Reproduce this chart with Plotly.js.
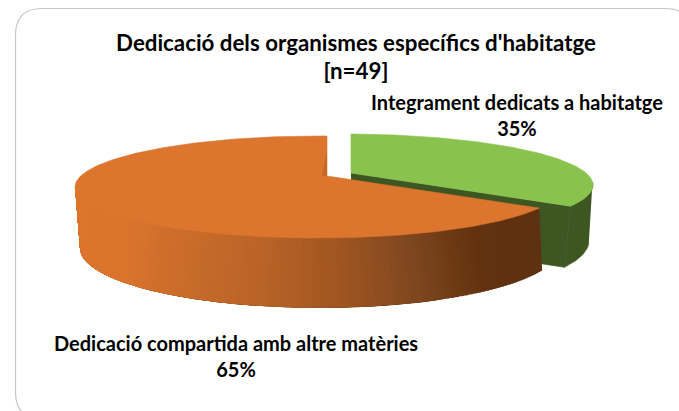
<!DOCTYPE html>
<html>
<head>
<meta charset="utf-8">
<script src="https://cdn.plot.ly/plotly-3.0.0.min.js"></script>
<style>html,body{margin:0;padding:0;background:#fff}#chart{width:679px;height:411px}</style>
</head>
<body>
<div id="chart"></div>
<script>
// Data
var titleLines = ["Dedicació dels organismes específics d'habitatge", "[n=49]"];
var categories = ["Integrament dedicats a habitatge", "Dedicació compartida amb altre matèries"];
var shares = [35, 65];

// Styles
var FONT = "Lato, Carlito, Calibri, sans-serif";
var greenTop = "#8AC24E", greenSide = "#3D5622", orangeTop = "#DC752E", orangeWall = "#C4692A";
var sideStops = [[75,[220,117,46]],[130,[218,116,45]],[170,[206,110,43]],[260,[187,100,40]],[340,[160,85,32]],[407,[127,71,32]],[473,[98,50,15]],[560,[92,48,18]]];

// Perspective pie geometry (screen pixels; the axes are a 1:1 pixel frame)
var KX = 4.8, KY = 1;
var geo = [
  {apex:[351,173], botApex:[351,235], top:{c:[345,185],r:[248,51]}, bot:{c:[347,241],r:[242,60]}},
  {apex:[327,176], botApex:[326,238], top:{c:[318,187],r:[243,51]}, bot:{c:[320,248],r:[240,60]}}
];
function rim(apex, e, deg){
  var a = deg*Math.PI/180, dx = KX*Math.sin(a), dy = -KY*Math.cos(a);
  var ox = apex[0]-e.c[0], oy = apex[1]-e.c[1], rx = e.r[0], ry = e.r[1];
  var A = dx*dx/(rx*rx)+dy*dy/(ry*ry), B = 2*(ox*dx/(rx*rx)+oy*dy/(ry*ry)), C = ox*ox/(rx*rx)+oy*oy/(ry*ry)-1;
  var s = (-B+Math.sqrt(B*B-4*A*C))/(2*A);
  return [apex[0]+s*dx, apex[1]+s*dy];
}
function sideColor(x){
  for (var i=1;i<sideStops.length;i++){
    if (x<=sideStops[i][0]){
      var p=sideStops[i-1], q=sideStops[i], f=Math.max(0,(x-p[0])/(q[0]-p[0]));
      return "rgb("+p[1].map(function(v,k){return Math.round(v+(q[1][k]-v)*f);}).join(",")+")";
    }
  }
  return "rgb("+sideStops[sideStops.length-1][1].join(",")+")";
}
function poly(points, color, lw){
  return {type:"scatter", mode:"lines", x:points.map(function(p){return p[0];}), y:points.map(function(p){return p[1];}),
    fill:"toself", fillcolor:color, line:{color:color,width:lw===undefined?0.6:lw}, hoverinfo:"skip", showlegend:false};
}
var total = shares[0]+shares[1];
var split = shares[0]/total*360;
var traces = [];

// Green slice: side walls, then top face
var g = geo[0], i, j, th, pts = [];
traces.push(poly([g.apex, rim(g.apex,g.top,split), rim(g.botApex,g.bot,split), g.botApex], greenSide));
var gFrom = 100, gOuter = [], gBack = [];
for (i=0;i<=30;i++){ th = gFrom+(split-gFrom)*i/30; gOuter.push(rim(g.apex,g.top,th)); gBack.unshift(rim(g.botApex,g.bot,th)); }
traces.push(poly(gOuter.concat(gBack), greenSide));
pts=[g.apex];
for (i=0;i<=120;i++){ pts.push(rim(g.apex,g.top,split*i/120)); }
pts.push(g.apex);
traces.push(poly(pts, greenTop));

// Orange slice: shaded strips along the front wall (each later strip paints
// over the previous one's remainder so no seams show), then top face
var o = geo[1], N = 120, oEnd = 259;
for (i=0;i<N;i++){
  var a0 = split+(oEnd-split)*i/N, a1 = split+(oEnd-split)*(i+1)/N;
  var topEdge = [], botEdge = [];
  for (j=0;j<=4;j++){
    th = oEnd+(a0-oEnd)*j/4;
    topEdge.push(rim(o.apex,o.top,th));
    botEdge.unshift(rim(o.botApex,o.bot,th));
  }
  var px0 = rim(o.apex,o.top,a0)[0], px1 = rim(o.apex,o.top,a1)[0];
  traces.push(poly(topEdge.concat(botEdge), sideColor((px0+px1)/2), 0));
}
pts=[o.apex];
for (i=0;i<=240;i++){ pts.push(rim(o.apex,o.top,split+(360-split)*i/240)); }
pts.push(o.apex);
traces.push(poly(pts, orangeTop));
traces.push(poly([[o.apex[0],o.apex[1]-26],[o.apex[0]-5,o.apex[1]],o.apex], orangeWall, 0));

var layout = {
  width:679, height:411, margin:{l:0,r:0,t:0,b:0}, paper_bgcolor:"#fff", plot_bgcolor:"#fff", showlegend:false,
  xaxis:{range:[0,679], visible:false, fixedrange:true},
  yaxis:{range:[411,0], visible:false, fixedrange:true},
  title:{text:titleLines.join("<br>"), x:356/679, xanchor:"center", y:1-50.5/411, yanchor:"top", font:{family:FONT, size:22.3, color:"#000", weight:700}},
  shapes:[{type:"path", layer:"below", path:"M 42.5 419 Q 15.5 419 15.5 392 L 15.5 35 Q 15.5 8.5 42 8.5 L 665 8.5 Q 692 8.5 692 35 L 692 392 Q 692 419 665 419 Z", line:{color:"#C6C6C6",width:1.2}, fillcolor:"rgba(0,0,0,0)"}],
  annotations:[
    {x:517, y:114.5, text:categories[0]+"<br>"+shares[0]+"%", showarrow:false, xanchor:"center", yanchor:"middle", font:{family:FONT,size:20,color:"#000",weight:700}},
    {x:236, y:356, text:categories[1]+"<br>"+shares[1]+"%", showarrow:false, xanchor:"center", yanchor:"middle", font:{family:FONT,size:20,color:"#000",weight:700}}
  ]
};
Plotly.newPlot("chart", traces, layout, {displayModeBar:false, staticPlot:true});
</script>
</body>
</html>
